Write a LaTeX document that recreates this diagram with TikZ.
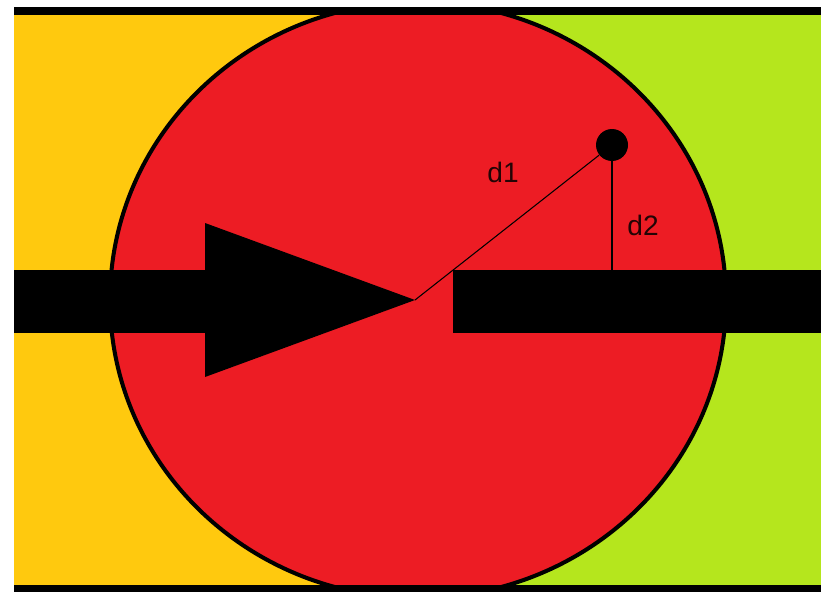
\documentclass[tikz,border=0pt]{standalone}
\usepackage{fontspec}
\setmainfont{Liberation Sans}
\usepackage{tikz}
\usetikzlibrary{positioning}
\definecolor{pntyellow}{RGB}{255,201,14}
\definecolor{pntgreen}{RGB}{181,230,29}
\definecolor{pntred}{RGB}{237,28,36}
\tikzset{
  zone/.style={draw=none},
  band/.style={fill=black, draw=none},
  ring/.style={fill=pntred, draw=black, line width=2.3pt},
  sensor/.style={circle, fill=black, inner sep=0pt, minimum size=0.64cm},
  dist/.style={draw=black, line width=0.6pt},
  dlabel/.style={font=\fontsize{16}{18}\selectfont, text=black!85!pntred}
}

\begin{document}
\begin{tikzpicture}[x=0.02cm, y=-0.02cm]
  \useasboundingbox (0,0) rectangle (821,592);
  \fill[white] (0,0) rectangle (821,592);

  % the two coloured zones
  \fill[zone, pntyellow] (14,15) rectangle (418,585);
  \fill[zone, pntgreen] (418,15) rectangle (821,585);

  % the red disc, cut off by the frame
  \begin{scope}
    \clip (14,14) rectangle (821,586);
    \draw[ring] (418,300) ellipse (308 and 298);
  \end{scope}

  % frame lines
  \fill[band] (14,7) rectangle (821,15);
  \fill[band] (14,585) rectangle (821,592);

  % the arrow and the bar
  \fill[band] (14,270) rectangle (210,333);
  \fill[band] (205,223) -- (415,300) -- (205,377) -- cycle;
  \fill[band] (453,270) rectangle (821,333);

  \coordinate (tip) at (415,300);
  \coordinate (bartop) at (613,270);
  \node[sensor] (dot) at (612,145) {};

  % distances
  \draw[dist] (tip) -- (dot);
  \draw[dist] (dot) -- (dot |- bartop);
  \node[dlabel] (d1) at (503,172) {d1};
  \node[dlabel] (d2) at (643,225) {d2};
\end{tikzpicture}
\end{document}
